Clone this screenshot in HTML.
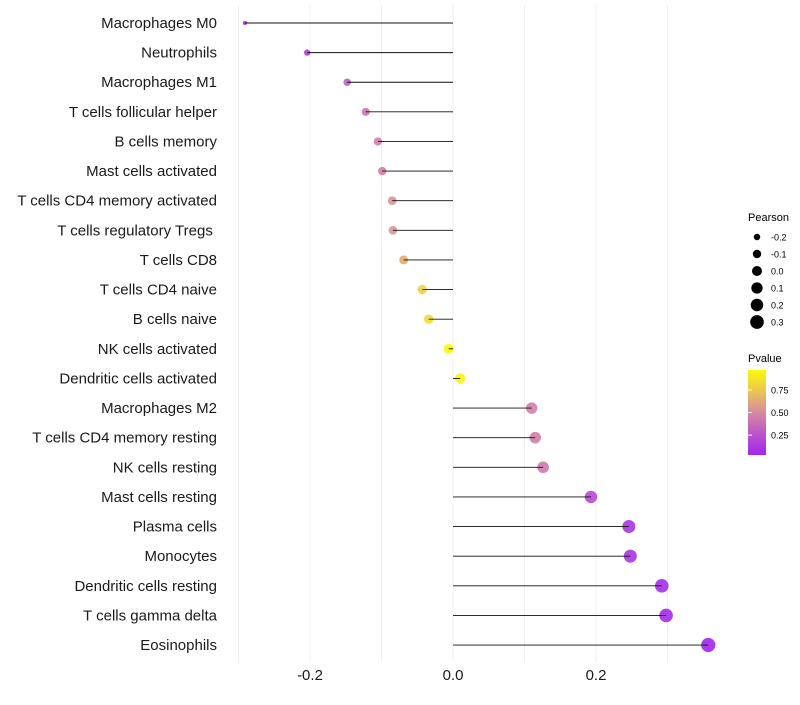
<!DOCTYPE html>
<html><head><meta charset="utf-8"><style>
body{margin:0;background:#fff;}
svg text{font-family:"Liberation Sans",sans-serif;}
</style></head><body>
<svg id="chart" width="800" height="700" xmlns="http://www.w3.org/2000/svg">
<g id="grid"></g>
<g id="marks"></g>
<g id="ylab"></g>
<g id="xlab"></g>
<g id="legend"></g>
</svg>
<script>
const categories=["Macrophages M0","Neutrophils","Macrophages M1","T cells follicular helper","B cells memory","Mast cells activated","T cells CD4 memory activated","T cells regulatory  Tregs\u00a0","T cells CD8","T cells CD4 naive","B cells naive","NK cells activated","Dendritic cells activated","Macrophages M2","T cells CD4 memory resting","NK cells resting","Mast cells resting","Plasma cells","Monocytes","Dendritic cells resting","T cells gamma delta","Eosinophils"];
const pearson=[-0.291,-0.204,-0.148,-0.122,-0.105,-0.099,-0.085,-0.084,-0.069,-0.043,-0.034,-0.006,0.010,0.110,0.115,0.126,0.193,0.246,0.248,0.292,0.298,0.357];
const pvalue=[0.03,0.15,0.30,0.40,0.45,0.45,0.55,0.55,0.65,0.80,0.85,0.97,0.95,0.45,0.45,0.42,0.20,0.10,0.10,0.06,0.05,0.03];
const xTicks=[-0.2,0.0,0.2];
const xGrid=[-0.3,-0.2,-0.1,0,0.1,0.2,0.3];
const sizeLegend=[-0.2,-0.1,0.0,0.1,0.2,0.3];
const pTicks=[0.25,0.50,0.75];
const NS="http://www.w3.org/2000/svg";
const x=v=>453+v*715;
const y=i=>23+i*29.62;
const r=v=>Math.sqrt(Math.max(0,4+72*(v+0.29)));
function col(p){
  const stops=[[0,[160,32,240]],[0.5,[214,138,162]],[1,[255,255,0]]];
  let a=stops[0],b=stops[1];if(p>0.5){a=stops[1];b=stops[2];}
  const t=(p-a[0])/(b[0]-a[0]);
  return "rgb("+a[1].map((c,k)=>Math.round(c+(b[1][k]-c)*t)).join(",")+")";
}
function el(tag,at,parent,txt){const e=document.createElementNS(NS,tag);for(const k in at)e.setAttribute(k,at[k]);if(txt!==undefined)e.textContent=txt;document.getElementById(parent).appendChild(e);return e;}
xGrid.forEach(v=>{const e=el("line",{x1:x(v),x2:x(v),y1:5,y2:662,stroke:"#f0f0f0","stroke-width":1},"grid");

});
categories.forEach((c,i)=>{
  const cc=el("circle",{cx:x(pearson[i]),cy:y(i),r:r(pearson[i]),fill:col(pvalue[i]),"fill-opacity":0.9},"marks");
  
  
  const l=el("line",{x1:x(0),x2:x(pearson[i]),y1:y(i),y2:y(i),stroke:"#111","stroke-width":0.9},"marks");
  
  
  const t=el("text",{x:217,y:y(i)+5,"text-anchor":"end","font-size":15,fill:"#1a1a1a","xml:space":"preserve"},"ylab",c);
  
  
});
xTicks.forEach(v=>{const t=el("text",{x:x(v),y:680,"text-anchor":"middle","font-size":15,fill:"#1a1a1a"},"xlab",v.toFixed(1));

});
let t=el("text",{x:748,y:221,"font-size":11},"legend","Pearson");


sizeLegend.forEach((v,i)=>{const yy=237+i*17;
 const c=el("circle",{cx:757,cy:yy,r:r(v),fill:"#000"},"legend");
 
 
 const tt=el("text",{x:771,y:yy+3.5,"font-size":9},"legend",v.toFixed(1));
 
 });
t=el("text",{x:748,y:362,"font-size":11},"legend","Pvalue");


const defs=el("defs",{},"legend");
const g=document.createElementNS(NS,"linearGradient");g.setAttribute("id","pg");g.setAttribute("x1","0");g.setAttribute("y1","1");g.setAttribute("x2","0");g.setAttribute("y2","0");defs.appendChild(g);
[0.03,0.25,0.5,0.75,0.97].forEach((p,k)=>{const s=document.createElementNS(NS,"stop");s.setAttribute("offset",k/4);s.setAttribute("stop-color",col(p));g.appendChild(s);});
const bar=el("rect",{x:748,y:370,width:18,height:85,fill:"url(#pg)"},"legend");


pTicks.forEach(p=>{const yy=455-(p-0.03)/0.94*85;
 const tk=el("line",{x1:748,x2:752,y1:yy,y2:yy,stroke:"#fff"},"legend");
 
 
 const tt=el("text",{x:771,y:yy+3.5,"font-size":9},"legend",p.toFixed(2));
 
 });
</script>
</body></html>
